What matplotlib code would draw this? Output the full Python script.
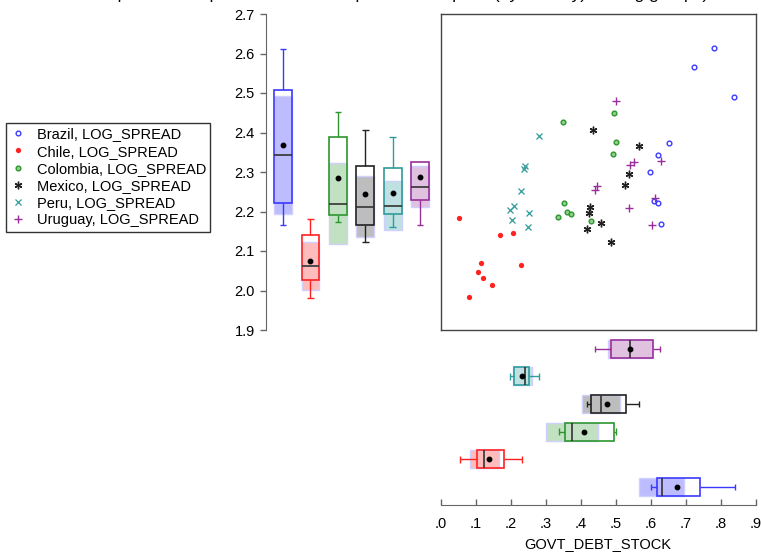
# coding: utf-8
# Grafico de dispersion LOG_SPREAD vs GOVT_DEBT_STOCK con boxplots en los margenes

import numpy as np
import matplotlib
matplotlib.use('Agg')
import matplotlib.pyplot as plt
from matplotlib.lines import Line2D

plt.rcParams['font.family'] = ['Liberation Sans', 'DejaVu Sans']

################################
# Datos

paises = ['Brazil', 'Chile', 'Colombia', 'Mexico', 'Peru', 'Uruguay']

deuda = {
    'Brazil':   [0.781, 0.724, 0.838, 0.651, 0.620, 0.599, 0.609, 0.620, 0.629],
    'Chile':    [0.053, 0.169, 0.207, 0.115, 0.230, 0.106, 0.122, 0.146, 0.082],
    'Colombia': [0.495, 0.350, 0.501, 0.492, 0.353, 0.362, 0.372, 0.336, 0.429],
    'Mexico':   [0.435, 0.567, 0.539, 0.527, 0.427, 0.425, 0.457, 0.417, 0.487],
    'Peru':     [0.241, 0.238, 0.228, 0.209, 0.199, 0.252, 0.203, 0.250, 0.281],
    'Uruguay':  [0.500, 0.541, 0.553, 0.629, 0.446, 0.441, 0.611, 0.539, 0.605],
}
spread = {
    'Brazil':   [2.613, 2.566, 2.491, 2.374, 2.344, 2.299, 2.226, 2.222, 2.168],
    'Chile':    [2.183, 2.141, 2.146, 2.070, 2.064, 2.047, 2.031, 2.015, 1.984],
    'Colombia': [2.450, 2.427, 2.377, 2.345, 2.221, 2.199, 2.194, 2.187, 2.176],
    'Mexico':   [2.407, 2.367, 2.294, 2.267, 2.211, 2.197, 2.170, 2.156, 2.123],
    'Peru':     [2.316, 2.308, 2.251, 2.214, 2.204, 2.196, 2.179, 2.162, 2.390],
    'Uruguay':  [2.480, 2.318, 2.326, 2.328, 2.265, 2.255, 2.235, 2.210, 2.167],
}

# Estadisticos de los boxplots leidos de la figura
# orden: bigote inf, q1, mediana, q3, bigote sup, media, IC inf, IC sup
box_spread = {
    'Brazil':   [2.166, 2.222, 2.342, 2.508, 2.612, 2.368, 2.193, 2.492],
    'Chile':    [1.982, 2.027, 2.062, 2.141, 2.180, 2.075, 2.002, 2.123],
    'Colombia': [2.174, 2.191, 2.219, 2.388, 2.451, 2.286, 2.117, 2.322],
    'Mexico':   [2.123, 2.166, 2.211, 2.314, 2.407, 2.244, 2.135, 2.290],
    'Peru':     [2.162, 2.193, 2.214, 2.310, 2.389, 2.248, 2.153, 2.277],
    'Uruguay':  [2.166, 2.228, 2.262, 2.325, 2.325, 2.288, 2.211, 2.315],
}
box_deuda = {
    'Brazil':   [0.600, 0.619, 0.631, 0.741, 0.842, 0.675, 0.567, 0.696],
    'Chile':    [0.055, 0.104, 0.125, 0.181, 0.232, 0.137, 0.085, 0.166],
    'Colombia': [0.338, 0.354, 0.376, 0.495, 0.501, 0.410, 0.301, 0.449],
    'Mexico':   [0.417, 0.428, 0.458, 0.529, 0.567, 0.474, 0.404, 0.512],
    'Peru':     [0.197, 0.210, 0.240, 0.251, 0.282, 0.232, 0.207, 0.261],
    'Uruguay':  [0.442, 0.487, 0.542, 0.607, 0.627, 0.541, 0.479, 0.605],
}

xticks = [0.0, 0.1, 0.2, 0.3, 0.4, 0.5, 0.6, 0.7, 0.8, 0.9]
xticklabels = ['.0', '.1', '.2', '.3', '.4', '.5', '.6', '.7', '.8', '.9']
yticks = [1.9, 2.0, 2.1, 2.2, 2.3, 2.4, 2.5, 2.6, 2.7]

################################
# Estilos

colores = {'Brazil': '#3a3aff', 'Chile': '#ff2020', 'Colombia': '#2e962e',
           'Mexico': '#222222', 'Peru': '#2f9b9b', 'Uruguay': '#9a2f9a'}
sombras = {'Brazil': '#bcbcff', 'Chile': '#ffbcbc', 'Colombia': '#c2e1c2',
           'Mexico': '#bdbdbd', 'Peru': '#bfe1e1', 'Uruguay': '#e0c2e0'}
marcas = {
    'Brazil':   dict(marker='o', ms=3.4, mfc='none', mew=1.0),
    'Chile':    dict(marker='o', ms=3.8, mew=0),
    'Colombia': dict(marker='o', ms=3.4, mfc='#8fd08f', mew=1.0),
    'Mexico':   dict(marker=(6, 2, 0), ms=5.5, mew=1.0),
    'Peru':     dict(marker='x', ms=4.8, mew=0.9),
    'Uruguay':  dict(marker='+', ms=5.6, mew=1.0),
}

W, H = 761., 552.

def rect(x0, y0, x1, y1):
    # pixeles (desde arriba) -> fraccion de figura
    return [x0 / W, 1 - y1 / H, (x1 - x0) / W, (y1 - y0) / H]

fig = plt.figure(figsize=(W / 100, H / 100), dpi=100)

# Titulo (cortado arriba como en la original, solo se ven los trazos inferiores)
fig.text(0.535, 1.0 + 0.5 / H, 'Spreads and public debt: scatterplot with boxplots (by country) among groups)',
         ha='center', va='baseline', fontsize=12.5)

################################
# Scatter

ax = fig.add_axes(rect(440.7, 14, 755.7, 330))
for p in paises:
    ax.plot(deuda[p], spread[p], ls='none', color=colores[p], mec=colores[p], **marcas[p])
ax.set_xlim(0, 0.9)
ax.set_ylim(1.9, 2.7)
ax.set_xticks([])
ax.set_yticks([])
for s in ax.spines.values():
    s.set_color('#444444')
    s.set_linewidth(1.0)

################################
# Boxplots verticales (LOG_SPREAD)

axy = fig.add_axes(rect(266, 14, 439, 330))
axy.set_xlim(0.38, 6.69)
axy.set_ylim(1.9, 2.7)
ancho = 0.65
for i, p in enumerate(paises):
    pos = i + 1
    wlo, q1, med, q3, whi, media, clo, chi = box_spread[p]
    c = colores[p]
    axy.bar(pos, chi - clo, bottom=clo, width=ancho, color=sombras[p],
            edgecolor='#d0d0ff', linewidth=1.0, zorder=1)
    axy.bar(pos, q3 - q1, bottom=q1, width=ancho, fill=False,
            edgecolor=c, linewidth=1.2, zorder=3)
    axy.vlines([pos, pos], [wlo, q3], [q1, whi], color=c, lw=1.0, zorder=2)
    tapas = [v for v in (wlo, whi) if v not in (q1, q3)]
    if tapas:
        axy.hlines(tapas, pos - 0.12, pos + 0.12, color=c, lw=1.0, zorder=2)
    axy.hlines(med, pos - ancho / 2, pos + ancho / 2, color='#333333', lw=1.2, zorder=4)
    axy.plot(pos, media, 'o', color='black', ms=3.2, zorder=5)

axy.set_yticks(yticks)
axy.set_yticklabels(['%.1f' % v for v in yticks])
axy.set_xticks([])
for k in ['top', 'right', 'bottom']:
    axy.spines[k].set_visible(False)
axy.spines['left'].set_color('#666666')
axy.tick_params(axis='y', direction='out', length=4, width=1, color='#666666',
                labelsize=10.5, pad=4)
axy.patch.set_alpha(0)

################################
# Boxplots horizontales (GOVT_DEBT_STOCK)

axx = fig.add_axes(rect(440.7, 335, 755.7, 505))
axx.set_xlim(0, 0.9)
axx.set_ylim(0.35, 6.5)
for i, p in enumerate(paises):
    pos = i + 1
    wlo, q1, med, q3, whi, media, clo, chi = box_deuda[p]
    c = colores[p]
    axx.barh(pos, chi - clo, left=clo, height=ancho, color=sombras[p],
             edgecolor='#d0d0ff', linewidth=1.0, zorder=1)
    axx.barh(pos, q3 - q1, left=q1, height=ancho, fill=False,
             edgecolor=c, linewidth=1.2, zorder=3)
    axx.hlines([pos, pos], [wlo, q3], [q1, whi], color=c, lw=1.0, zorder=2)
    axx.vlines([wlo, whi], pos - 0.12, pos + 0.12, color=c, lw=1.0, zorder=2)
    axx.vlines(med, pos - ancho / 2, pos + ancho / 2, color='#333333', lw=1.2, zorder=4)
    axx.plot(media, pos, 'o', color='black', ms=3.2, zorder=5)

axx.set_xticks(xticks)
axx.set_xticklabels(xticklabels)
axx.set_yticks([])
for k in ['top', 'right', 'left']:
    axx.spines[k].set_visible(False)
axx.spines['bottom'].set_color('#666666')
axx.tick_params(axis='x', direction='in', length=4, width=1, color='#666666',
                labelsize=10.5, pad=9)
axx.set_xlabel('GOVT_DEBT_STOCK', fontsize=10.5, labelpad=4)
axx.patch.set_alpha(0)

################################
# Leyenda

handles = [Line2D([], [], ls='none', color=colores[p], mec=colores[p], **marcas[p]) for p in paises]
etiquetas = [p + ', LOG_SPREAD' for p in paises]
leg = fig.legend(handles, etiquetas, loc='upper left', bbox_to_anchor=(6 / W, 1 - 123 / H),
                 fontsize=10.5, frameon=True, fancybox=False, edgecolor='black',
                 handlelength=1.0, handletextpad=0.8, labelspacing=0.22,
                 borderpad=0.3, borderaxespad=0)
leg.get_frame().set_linewidth(1.0)

plt.savefig('out.png', dpi=100)
